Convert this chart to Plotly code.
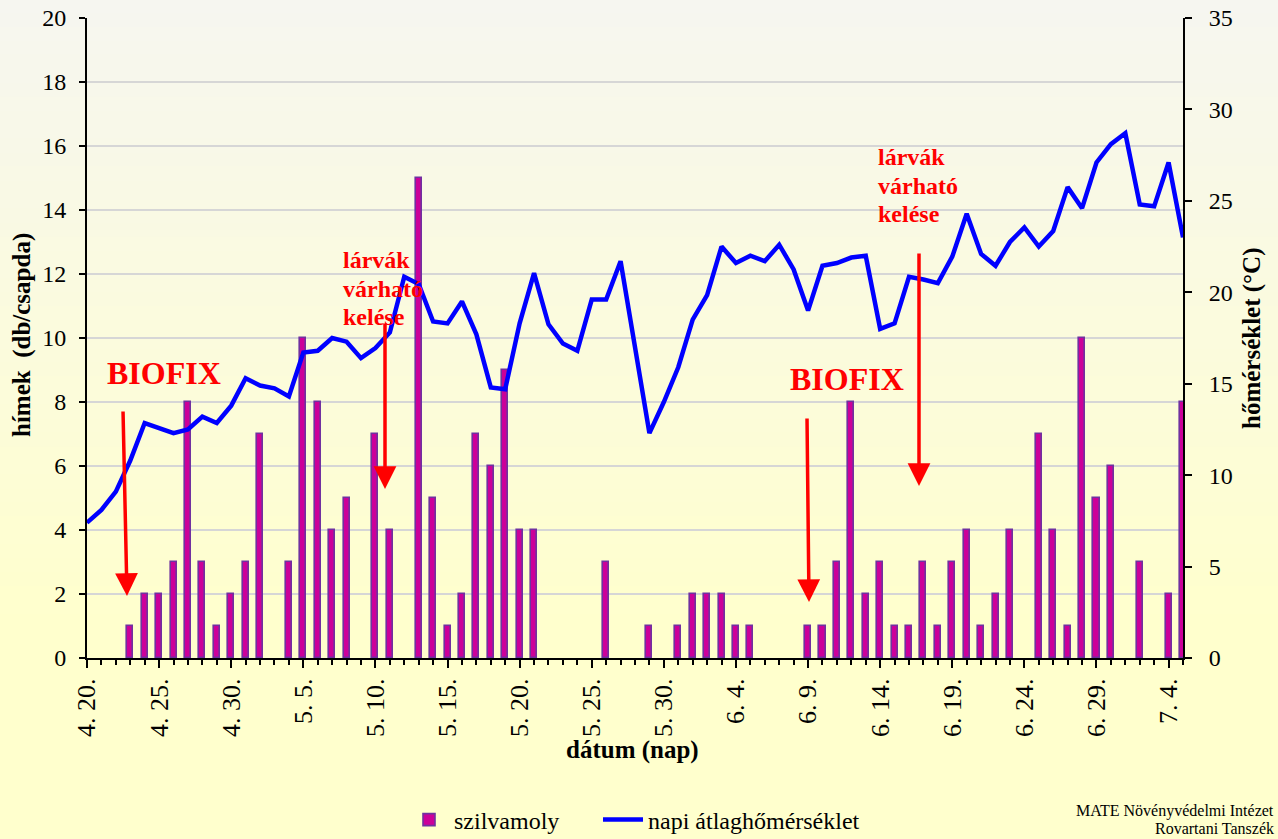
import pandas as pd
import plotly.graph_objects as go

# ---- data ----
dates = pd.date_range("2021-04-20", "2021-07-05", freq="D")
males = [0, 0, 0, 1, 2, 2, 3, 8, 3, 1,
         2, 3, 7, 0, 3, 10, 8, 4, 5, 0,
         7, 4, 0, 15, 5, 1, 2, 7, 6, 9,
         4, 4, 0, 0, 0, 0, 3, 0, 0, 1,
         0, 1, 2, 2, 2, 1, 1, 0, 0, 0,
         1, 1, 3, 8, 2, 3, 1, 1, 3, 1,
         3, 4, 1, 2, 4, 0, 7, 4, 1, 10,
         5, 6, 0, 3, 0, 2, 8]
temps = [7.4, 8.1, 9.1, 10.8, 12.85, 12.6, 12.3, 12.5, 13.2, 12.85,
         13.8, 15.3, 14.9, 14.75, 14.3, 16.7, 16.8, 17.5, 17.3, 16.4,
         16.95, 17.8, 20.85, 20.45, 18.4, 18.3, 19.5, 17.7, 14.8, 14.7,
         18.3, 21.05, 18.25, 17.2, 16.8, 19.6, 19.6, 21.7, 17.0, 12.3,
         14.0, 15.9, 18.5, 19.85, 22.5, 21.6, 22.0, 21.7, 22.6, 21.25,
         19.0, 21.45, 21.6, 21.9, 22.0, 18.0, 18.3, 20.85, 20.7, 20.5,
         21.95, 24.3, 22.1, 21.45, 22.75, 23.55, 22.5, 23.35, 25.75, 24.6,
         27.1, 28.1, 28.7, 24.8, 24.7, 27.1, 23.0]
bar_name = "szilvamoly"
line_name = "napi átlaghőmérséklet"

FONT = "Liberation Serif, Times New Roman, serif"
DAY = 86400000

fig = go.Figure()
fig.add_trace(go.Bar(
    x=dates, y=[v if v else None for v in males], name=bar_name, width=0.42 * DAY,
    marker=dict(color="#cc0099", line=dict(color="#7030a0", width=1.6)),
    yaxis="y", legend="legend", showlegend=True,
))
fig.add_trace(go.Scatter(
    x=dates, y=temps, name=line_name, mode="lines",
    line=dict(color="#0000ff", width=4.5),
    yaxis="y2", legend="legend2", showlegend=True,
))

# background gradient (white-grey top -> pale yellow bottom)
H, W = 839, 1278
L, T, B = 87, 18, 658
pw, ph = 1183 - 87, B - T
def py(p):
    return (B - p) / ph
def px(p):
    return (p - L) / pw
n = 60
shapes = []
top = (246, 246, 240)
bot = (255, 255, 205)
for k in range(n):
    y0p = H * k / n
    y1p = H * (k + 1) / n
    t = min(1.0, (y0p + y1p) / 2 / 620)
    c = tuple(round(top[j] + (bot[j] - top[j]) * t) for j in range(3))
    shapes.append(dict(type="rect", xref="paper", yref="paper",
                       x0=px(0), x1=px(W), y0=py(y1p) - 0.002, y1=py(y0p) + 0.002,
                       fillcolor="rgb(%d,%d,%d)" % c, line=dict(width=0), layer="below"))

red = "#ff0000"
ann = []
def text(x, y, s, size, xanchor="center", angle=0, color=red, bold=True):
    ann.append(dict(xref="paper", yref="paper", x=px(x), y=py(y), text=("<b>%s</b>" % s) if bold else s,
                    showarrow=False, xanchor=xanchor, yanchor="middle", textangle=angle,
                    font=dict(family=FONT, size=size, color=color)))
def arrow(hx, hy, tx, ty):
    ann.append(dict(xref="paper", yref="paper", x=px(hx), y=py(hy), ax=tx - hx, ay=ty - hy,
                    text="", showarrow=True, arrowhead=2, arrowsize=1.3, arrowwidth=3.5,
                    arrowcolor=red, standoff=0))

text(164, 373, "BIOFIX", 32)
text(847, 379, "BIOFIX", 32)
for i, s in enumerate(["lárvák", "várható", "kelése"]):
    text(341, 260 + 28.5 * i, s, 24, xanchor="left")
    text(876, 157 + 28.5 * i, s, 24, xanchor="left")
arrow(127, 596, 123, 410)
arrow(385, 489, 385, 322)
arrow(809, 602, 807, 417)
arrow(919, 486, 919, 252)

text(22, 335, "hímek  (db/csapda)", 25, angle=-90, color="black")
text(1252, 339, "hőmérséklet (°C)", 25, angle=-90, color="black")
text(632, 750, "dátum (nap)", 25, color="black")
ann.append(dict(xref="paper", yref="paper", x=px(1276), y=py(811), text="MATE Növényvédelmi Intézet",
                showarrow=False, xanchor="right", yanchor="middle",
                font=dict(family=FONT, size=16, color="black")))
ann.append(dict(xref="paper", yref="paper", x=px(1276), y=py(828), text="Rovartani Tanszék",
                showarrow=False, xanchor="right", yanchor="middle",
                font=dict(family=FONT, size=16, color="black")))

leg_common = dict(orientation="h", yanchor="middle", xanchor="left", visible=True,
                  bgcolor="rgba(0,0,0,0)", font=dict(family=FONT, size=24), itemwidth=40)
fig.update_layout(
    width=W, height=H, autosize=False, showlegend=True,
    margin=dict(l=L, r=W - 1183, t=T, b=H - B, autoexpand=False),
    paper_bgcolor="#ffffcc", plot_bgcolor="rgba(0,0,0,0)",
    font=dict(family=FONT, size=24, color="black"),
    shapes=shapes, annotations=ann,
    bargap=0, hovermode=False,
    legend=dict(x=px(404), y=py(820), **leg_common),
    legend2=dict(x=px(598), y=py(820), **leg_common),
    xaxis=dict(
        type="date", range=["2021-04-20", "2021-07-05"], automargin=False,
        tick0="2021-04-20", dtick=5 * DAY, tickformat="%-m. %-d.", tickangle=-90,
        tickfont=dict(family=FONT, size=26),
        ticks="outside", ticklen=8, tickwidth=2, tickcolor="black",
        showline=True, linecolor="black", linewidth=2, showgrid=False, zeroline=False,
        minor=dict(dtick=DAY, tick0="2021-04-20", ticks="outside", ticklen=5,
                   tickwidth=1.5, tickcolor="black", showgrid=False),
    ),
    yaxis=dict(
        range=[0, 20], dtick=2, tick0=0, side="left", automargin=False,
        showgrid=True, gridcolor="#d6d6d6", gridwidth=2, zeroline=False,
        showline=True, linecolor="black", linewidth=2,
        ticks="outside", ticklen=6, tickwidth=2, tickcolor="black",
        tickfont=dict(family=FONT, size=24), ticklabelstandoff=8,
    ),
    yaxis2=dict(
        range=[0, 35], dtick=5, tick0=0, side="right", overlaying="y", automargin=False,
        showgrid=False, zeroline=False,
        showline=True, linecolor="black", linewidth=2,
        ticks="outside", ticklen=7, tickwidth=2, tickcolor="black",
        tickfont=dict(family=FONT, size=24), ticklabelstandoff=12,
    ),
)

fig.write_html("out.html", config={"displayModeBar": False, "responsive": False},
               default_width="1278px", default_height="839px",
               post_script="document.body.style.margin='0';document.body.style.overflow='hidden';")
